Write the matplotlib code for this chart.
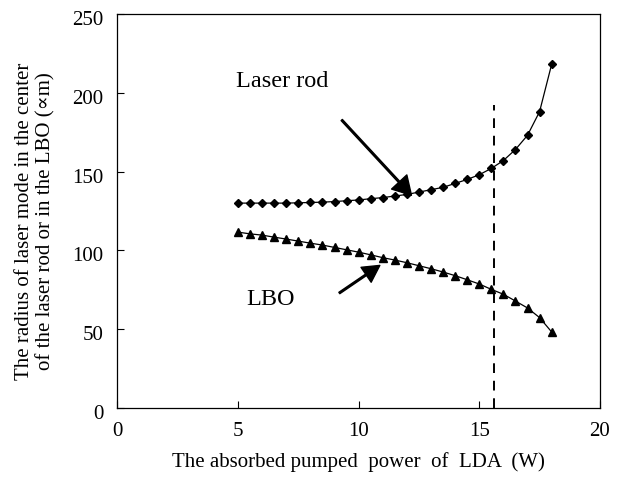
import matplotlib
matplotlib.use("Agg")
from matplotlib import pyplot as plt
from matplotlib.transforms import ScaledTranslation

plt.rcParams['font.family'] = ['Liberation Serif', 'DejaVu Serif']

# absorbed pump power (W)
power = [5.0, 5.5, 6.0, 6.5, 7.0, 7.5, 8.0, 8.5, 9.0, 9.5, 10.0, 10.5, 11.0, 11.5,
         12.0, 12.5, 13.0, 13.5, 14.0, 14.5, 15.0, 15.5, 16.0, 16.5, 17.0, 17.5, 18.0]
# mode radius in the laser rod
rod = [130, 130, 130, 130, 130, 130.2, 130.4, 130.6, 131, 131.5, 132, 132.8, 133.5, 134.5,
       135.5, 137, 138.5, 140, 142.5, 145, 148, 152, 157, 164, 173, 188, 218]
# mode radius in the LBO
lbo = [111.6, 110.5, 109.7, 108.4, 107.2, 105.9, 104.6, 103.4, 101.9, 100.4, 98.9, 97.2,
       95.4, 93.9, 92.2, 90.3, 88.4, 86.3, 84.0, 81.4, 78.7, 75.3, 72.2, 67.9, 63.5, 57.4, 48.3]
dash_x = 15.6
dash_top = 192

fig = plt.figure(figsize=(6.21, 4.79), dpi=100)
ax = fig.add_axes([0.189, 0.148, 0.777, 0.823])

ax.plot(power, rod, color='black', lw=0.9, marker='D', ms=4.5)
ax.plot(power, lbo, color='black', lw=0.9, marker='^', ms=6)
ax.plot([dash_x, dash_x], [0, dash_top], color='black', lw=1.4, ls=(0, (5, 4)))

ax.annotate('', xy=(12.19, 135), xytext=(9.3, 182.7),
            arrowprops=dict(facecolor='black', edgecolor='black', width=1.2,
                            headwidth=15, headlength=13))
ax.annotate('', xy=(10.88, 90.5), xytext=(9.2, 73),
            arrowprops=dict(facecolor='black', edgecolor='black', width=1.2,
                            headwidth=13, headlength=12))
ax.text(4.9, 207, 'Laser rod', fontsize=17.5, va='center', ha='left')
ax.text(5.35, 69, 'LBO', fontsize=17.5, va='center', ha='left')

ax.set_xlim(0, 20)
ax.set_ylim(0, 250)
ax.set_xticks([0, 5, 10, 15, 20])
ax.set_yticks([0, 50, 100, 150, 200, 250])
ax.tick_params(direction='in', labelsize=15, length=5, width=0.8)
ax.tick_params(axis='x', pad=10)
ax.tick_params(axis='y', pad=10)
shift = ScaledTranslation(0, -4 / 100, fig.dpi_scale_trans)
for lab in ax.get_yticklabels():
    lab.set_transform(lab.get_transform() + shift)
for s in ax.spines.values():
    s.set_linewidth(0.9)

fig.text(358 / 621, 1 - 462 / 479, 'The absorbed pumped  power  of  LDA  (W)',
         fontsize=15, ha='center', va='center')
fig.text(35 / 621, 1 - 221 / 479,
         'The radius of laser mode in the center\nof the laser rod or in the LBO (\u221dm)',
         fontsize=15, ha='center', va='center', rotation=90, linespacing=1.15)

fig.savefig('out.png', dpi=100)
